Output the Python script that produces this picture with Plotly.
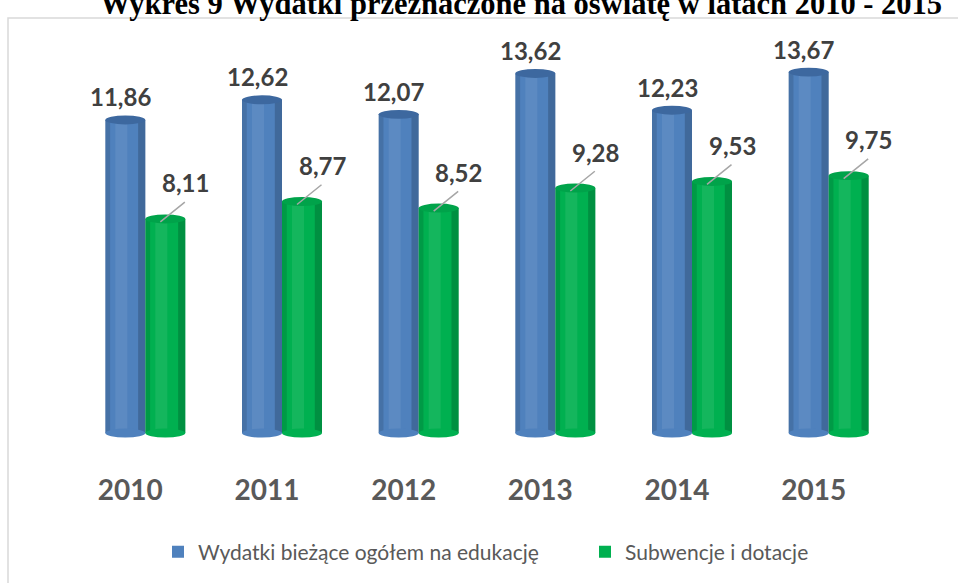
import plotly.graph_objects as go

# ---- data ----
years = ["2010", "2011", "2012", "2013", "2014", "2015"]
wydatki = [11.86, 12.62, 12.07, 13.62, 12.23, 13.67]
subwencje = [8.11, 8.77, 8.52, 9.28, 9.53, 9.75]
series_names = ["Wydatki bieżące ogółem na edukację", "Subwencje i dotacje"]
title_text = "Wykres 9 Wydatki przeznaczone na oświatę w latach 2010 - 2015"

# ---- layout geometry ----
W, H = 958, 583
L, R, T, B = 77, 61, 37, 141
PW, PH = W - L - R, H - T - B
Y0, Y1 = -0.3, 15
PX_PER_UNIT = PH / (Y1 - Y0)
CAT_PX = PW / len(years)
BW = 40 / CAT_PX  # bar width in category units
xpos = list(range(len(years)))


def px_x(px):
    return (px - L) / PW


def px_y(py):
    return (H - B - py) / PH


BLUE = "#4F81BD"
BLUE_TOP = "#3D689F"
GREEN = "#00B050"
GREEN_TOP = "#00A34A"
LABEL_COL = "#404040"

fig = go.Figure()
fig.add_trace(go.Bar(x=xpos, y=wydatki, name=series_names[0], legend="legend",
                     marker=dict(color=BLUE, line=dict(width=0))))
fig.add_trace(go.Bar(x=xpos, y=subwencje, name=series_names[1], legend="legend2",
                     marker=dict(color=GREEN, line=dict(width=0))))

shapes = []
annotations = []
eh = 4.5 / PX_PER_UNIT
for s, (vals, body, top) in enumerate([(wydatki, BLUE, BLUE_TOP), (subwencje, GREEN, GREEN_TOP)]):
    for i, v in enumerate(vals):
        x0 = xpos[i] - BW if s == 0 else xpos[i]
        x1 = x0 + BW
        # cylinder shading strips
        shapes.append(dict(type="rect", xref="x", yref="y", x0=x0, x1=x0 + BW * 0.12,
                           y0=0, y1=v, fillcolor="rgba(0,0,0,0.12)", line=dict(width=0)))
        shapes.append(dict(type="rect", xref="x", yref="y", x0=x0 + BW * 0.25, x1=x0 + BW * 0.55,
                           y0=0, y1=v, fillcolor="rgba(255,255,255,0.08)", line=dict(width=0)))
        shapes.append(dict(type="rect", xref="x", yref="y", x0=x1 - BW * 0.18, x1=x1,
                           y0=0, y1=v, fillcolor="rgba(0,0,0,0.18)", line=dict(width=0)))
        # bottom cap
        shapes.append(dict(type="circle", xref="x", yref="y", x0=x0, x1=x1,
                           y0=-eh, y1=eh, fillcolor=body, line=dict(width=0)))
        # top cap
        shapes.append(dict(type="circle", xref="x", yref="y", x0=x0, x1=x1,
                           y0=v - eh, y1=v + eh, fillcolor=top, line=dict(width=0)))

lab_font = dict(family="Lato", size=24, color=LABEL_COL, weight="bold")
for i, v in enumerate(wydatki):
    annotations.append(dict(x=xpos[i], y=v, xref="x", yref="y", text=f"{v:.2f}".replace(".", ","),
                            showarrow=False, xshift=-25, yshift=23, font=lab_font,
                            xanchor="center", yanchor="middle"))
for i, v in enumerate(subwencje):
    annotations.append(dict(x=xpos[i], y=v, xref="x", yref="y", text=" ",
                            showarrow=True, arrowhead=0, arrowwidth=1.5, arrowcolor="#A6A6A6",
                            ax=26, ay=-21, xshift=15, yshift=-3, font=dict(size=1)))
    annotations.append(dict(x=xpos[i], y=v, xref="x", yref="y", text=f"{v:.2f}".replace(".", ","),
                            showarrow=False, xshift=40, yshift=36, font=lab_font,
                            xanchor="center", yanchor="middle"))

# title, partly cut at the top edge
annotations.append(dict(xref="paper", yref="paper", x=px_x(521), y=px_y(23), text="<b>" + title_text + "</b>",
                        showarrow=False, xanchor="center", yanchor="bottom",
                        font=dict(family="Liberation Serif", size=30.5, color="#000000")))

# chart area border (light grey)
shapes.append(dict(type="rect", xref="paper", yref="paper", x0=px_x(8), x1=px_x(990),
                   y0=px_y(600), y1=px_y(18), line=dict(color="#D9D9D9", width=1.5),
                   fillcolor="rgba(0,0,0,0)", layer="below"))

leg_common = dict(orientation="h", xanchor="left", yanchor="middle", y=px_y(552),
                  font=dict(family="Lato", size=21, color="#595959"), itemwidth=30,
                  bgcolor="rgba(0,0,0,0)")

fig.update_layout(
    width=W, height=H,
    margin=dict(l=L, r=R, t=T, b=B, pad=0),
    paper_bgcolor="white", plot_bgcolor="white",
    barmode="group", bargap=1 - 2 * BW, bargroupgap=0,
    showlegend=True,
    legend=dict(x=px_x(158), **leg_common),
    legend2=dict(x=px_x(585), **leg_common),
    xaxis=dict(range=[-0.5, len(years) - 0.5], tickmode="array", tickvals=xpos, ticktext=years,
               showgrid=False, zeroline=False, showline=False, ticks="",
               tickfont=dict(family="Lato", size=28, color="#595959", weight="bold"),
               ticklabelshift=-15, ticklabelstandoff=30, fixedrange=True),
    yaxis=dict(range=[Y0, Y1], visible=False, fixedrange=True),
    shapes=shapes, annotations=annotations,
    font=dict(family="Lato"),
)

fig.write_html("out.html", config={"displayModeBar": False},
               post_script="document.body.style.margin='0';document.body.style.overflow='hidden';")
